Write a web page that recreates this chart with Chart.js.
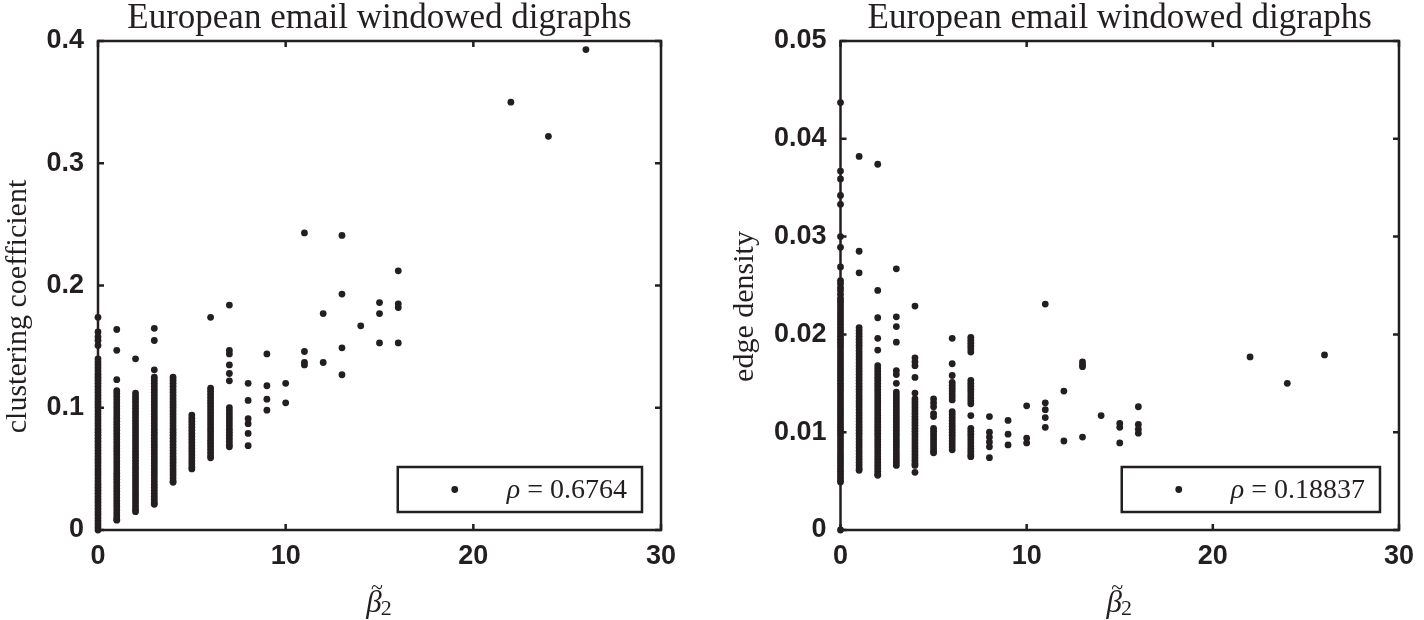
<!DOCTYPE html>
<html>
<head>
<meta charset="utf-8">
<title>European email windowed digraphs</title>
<script src="https://cdn.jsdelivr.net/npm/chart.js@4.4.0/dist/chart.umd.min.js"></script>
<style>
  html, body { margin: 0; padding: 0; background: #fff; }
  #wrap { position: relative; width: 1424px; height: 620px; }
  .panel { position: absolute; top: 0; width: 712px; height: 620px; }
</style>
</head>
<body>
<div id="wrap">
  <div class="panel" style="left:0"><canvas id="leftChart"></canvas></div>
  <div class="panel" style="left:712px"><canvas id="rightChart"></canvas></div>
</div>
<script>
// beta2 values (x) and the measured values at each of them
const betaValues = [0, 1, 2, 3, 4, 5, 6, 7, 8, 9, 10, 11, 12, 13, 14, 15, 16, 22, 24, 26];

const clusteringByBeta = [
  [0.174, 0.162, 0.158, 0.155, 0.151, 0.1400, 0.1375, 0.1350, 0.1325, 0.1300, 0.1275, 0.1250, 0.1225, 0.1200, 0.1175, 0.1150, 0.1125, 0.1100, 0.1075, 0.1050, 0.1025, 0.1000, 0.0975, 0.0950, 0.0925, 0.0900, 0.0875, 0.0850, 0.0825, 0.0800, 0.0775, 0.0750, 0.0725, 0.0700, 0.0675, 0.0650, 0.0625, 0.0600, 0.0575, 0.0550, 0.0525, 0.0500, 0.0475, 0.0450, 0.0425, 0.0400, 0.0375, 0.0350, 0.0325, 0.0300, 0.0275, 0.0250, 0.0225, 0.0200, 0.0175, 0.0150, 0.0125, 0.0100, 0.0075, 0.0050, 0.0025, 0.0000],
  [0.164, 0.147, 0.123, 0.1140, 0.1115, 0.1090, 0.1065, 0.1040, 0.1015, 0.0990, 0.0965, 0.0940, 0.0915, 0.0890, 0.0865, 0.0840, 0.0815, 0.0790, 0.0765, 0.0740, 0.0715, 0.0690, 0.0665, 0.0640, 0.0615, 0.0590, 0.0565, 0.0540, 0.0515, 0.0490, 0.0465, 0.0440, 0.0415, 0.0390, 0.0365, 0.0340, 0.0315, 0.0290, 0.0265, 0.0240, 0.0215, 0.0190, 0.0165, 0.0140, 0.0115, 0.0090, 0.0080],
  [0.140, 0.1120, 0.1095, 0.1070, 0.1045, 0.1020, 0.0995, 0.0970, 0.0945, 0.0920, 0.0895, 0.0870, 0.0845, 0.0820, 0.0795, 0.0770, 0.0745, 0.0720, 0.0695, 0.0670, 0.0645, 0.0620, 0.0595, 0.0570, 0.0545, 0.0520, 0.0495, 0.0470, 0.0445, 0.0420, 0.0395, 0.0370, 0.0345, 0.0320, 0.0295, 0.0270, 0.0245, 0.0220, 0.0195, 0.0170, 0.0150],
  [0.165, 0.155, 0.131, 0.1250, 0.1225, 0.1200, 0.1175, 0.1150, 0.1125, 0.1100, 0.1075, 0.1050, 0.1025, 0.1000, 0.0975, 0.0950, 0.0925, 0.0900, 0.0875, 0.0850, 0.0825, 0.0800, 0.0775, 0.0750, 0.0725, 0.0700, 0.0675, 0.0650, 0.0625, 0.0600, 0.0575, 0.0550, 0.0525, 0.0500, 0.0475, 0.0450, 0.0425, 0.0400, 0.0375, 0.0350, 0.0325, 0.0300, 0.0275, 0.0250, 0.0225, 0.0210],
  [0.1250, 0.1225, 0.1200, 0.1175, 0.1150, 0.1125, 0.1100, 0.1075, 0.1050, 0.1025, 0.1000, 0.0975, 0.0950, 0.0925, 0.0900, 0.0875, 0.0850, 0.0825, 0.0800, 0.0775, 0.0750, 0.0725, 0.0700, 0.0675, 0.0650, 0.0625, 0.0600, 0.0575, 0.0550, 0.0525, 0.0500, 0.0475, 0.0450, 0.0425, 0.0400, 0.0390],
  [0.0940, 0.0915, 0.0890, 0.0865, 0.0840, 0.0815, 0.0790, 0.0765, 0.0740, 0.0715, 0.0690, 0.0665, 0.0640, 0.0615, 0.0590, 0.0565, 0.0540, 0.0515, 0.0500],
  [0.174, 0.1160, 0.1135, 0.1110, 0.1085, 0.1060, 0.1035, 0.1010, 0.0985, 0.0960, 0.0935, 0.0910, 0.0885, 0.0860, 0.0835, 0.0810, 0.0785, 0.0760, 0.0735, 0.0710, 0.0685, 0.0660, 0.0635, 0.0610, 0.0590],
  [0.184, 0.147, 0.144, 0.135, 0.128, 0.122, 0.1000, 0.0975, 0.0950, 0.0925, 0.0900, 0.0875, 0.0850, 0.0825, 0.0800, 0.0775, 0.0750, 0.0725, 0.0700, 0.0680],
  [0.120, 0.106, 0.091, 0.087, 0.079, 0.069],
  [0.144, 0.118, 0.107, 0.098],
  [0.120, 0.104],
  [0.243, 0.146, 0.137, 0.135],
  [0.177, 0.137],
  [0.241, 0.193, 0.149, 0.127],
  [0.167],
  [0.186, 0.177, 0.153],
  [0.212, 0.185, 0.182, 0.153],
  [0.350],
  [0.322],
  [0.393]
];

const densityByBeta = [
  [0.0437, 0.0367, 0.0359, 0.0342, 0.0333, 0.0300, 0.0289, 0.0269, 0.0255, 0.0252, 0.0248, 0.0245, 0.0241, 0.0237, 0.0234, 0.0231, 0.0228, 0.0225, 0.0222, 0.0219, 0.0216, 0.0213, 0.0210, 0.0207, 0.0204, 0.0201, 0.0198, 0.0195, 0.0192, 0.0189, 0.0186, 0.0183, 0.0180, 0.0177, 0.0174, 0.0171, 0.0168, 0.0165, 0.0162, 0.0159, 0.0156, 0.0153, 0.0150, 0.0147, 0.0144, 0.0141, 0.0138, 0.0135, 0.0132, 0.0129, 0.0126, 0.0123, 0.0120, 0.0117, 0.0114, 0.0111, 0.0108, 0.0105, 0.0102, 0.0099, 0.0096, 0.0093, 0.0090, 0.0087, 0.0084, 0.0081, 0.0078, 0.0075, 0.0072, 0.0069, 0.0066, 0.0063, 0.0060, 0.0057, 0.0054, 0.0051, 0.0049, 0],
  [0.0382, 0.0285, 0.0263, 0.0207, 0.0204, 0.0201, 0.0198, 0.0195, 0.0192, 0.0189, 0.0186, 0.0183, 0.0180, 0.0177, 0.0174, 0.0171, 0.0168, 0.0165, 0.0162, 0.0159, 0.0156, 0.0153, 0.0150, 0.0147, 0.0144, 0.0141, 0.0138, 0.0135, 0.0132, 0.0129, 0.0126, 0.0123, 0.0120, 0.0117, 0.0114, 0.0111, 0.0108, 0.0105, 0.0102, 0.0099, 0.0096, 0.0093, 0.0090, 0.0087, 0.0084, 0.0081, 0.0078, 0.0075, 0.0072, 0.0069, 0.0066, 0.0063, 0.0061],
  [0.0374, 0.0245, 0.0217, 0.0196, 0.0184, 0.0168, 0.0165, 0.0162, 0.0159, 0.0156, 0.0153, 0.0150, 0.0147, 0.0144, 0.0141, 0.0138, 0.0135, 0.0132, 0.0129, 0.0126, 0.0123, 0.0120, 0.0117, 0.0114, 0.0111, 0.0108, 0.0105, 0.0102, 0.0099, 0.0096, 0.0093, 0.0090, 0.0087, 0.0084, 0.0081, 0.0078, 0.0075, 0.0072, 0.0069, 0.0066, 0.0063, 0.0060, 0.0057, 0.0056],
  [0.0267, 0.0218, 0.0208, 0.0192, 0.0163, 0.0159, 0.0150, 0.0141, 0.0138, 0.0135, 0.0132, 0.0129, 0.0126, 0.0123, 0.0120, 0.0117, 0.0114, 0.0111, 0.0108, 0.0105, 0.0102, 0.0099, 0.0096, 0.0093, 0.0090, 0.0087, 0.0084, 0.0081, 0.0078, 0.0075, 0.0072, 0.0069, 0.0066],
  [0.0229, 0.0176, 0.0172, 0.0168, 0.0156, 0.0140, 0.0134, 0.0131, 0.0128, 0.0125, 0.0122, 0.0119, 0.0116, 0.0113, 0.0110, 0.0107, 0.0104, 0.0101, 0.0098, 0.0095, 0.0092, 0.0089, 0.0086, 0.0083, 0.0080, 0.0077, 0.0074, 0.0071, 0.0068, 0.0066, 0.0059],
  [0.0134, 0.0130, 0.0126, 0.0119, 0.0116, 0.0104, 0.0101, 0.0098, 0.0095, 0.0092, 0.0089, 0.0086, 0.0083, 0.0080, 0.0079],
  [0.0196, 0.0170, 0.0158, 0.0151, 0.0148, 0.0145, 0.0142, 0.0139, 0.0136, 0.0133, 0.0121, 0.0118, 0.0115, 0.0112, 0.0109, 0.0106, 0.0103, 0.0100, 0.0097, 0.0094, 0.0091, 0.0088, 0.0085, 0.0082],
  [0.0197, 0.0194, 0.0191, 0.0188, 0.0185, 0.0182, 0.0153, 0.0150, 0.0147, 0.0144, 0.0141, 0.0138, 0.0135, 0.0132, 0.0129, 0.0117, 0.0104, 0.0101, 0.0098, 0.0095, 0.0092, 0.0089, 0.0086, 0.0083, 0.0080, 0.0077, 0.0075],
  [0.0116, 0.0100, 0.0095, 0.0090, 0.0085, 0.0074],
  [0.0112, 0.0098, 0.0087],
  [0.0127, 0.0094, 0.0089],
  [0.0231, 0.0130, 0.0123, 0.0115, 0.0105],
  [0.0142, 0.0091],
  [0.0172, 0.0169, 0.0167, 0.0095],
  [0.0117],
  [0.0109, 0.0105, 0.0089],
  [0.0126, 0.0108, 0.0103, 0.0099],
  [0.0177],
  [0.0150],
  [0.0179]
];

const betaTicks = [0, 10, 20, 30];
const clusteringTicks = [0, 0.1, 0.2, 0.3, 0.4];
const densityTicks = [0, 0.01, 0.02, 0.03, 0.04, 0.05];
const rhoValues = ['0.6764', '0.18837'];

const ink = '#231f20';
const titleText = 'European email windowed digraphs';
const serif = '"Liberation Serif"';

// box round the axes, inward ticks, axis labels and the little rho legend
const framePlugin = {
  id: 'frame',
  afterDatasetsDraw(chart, args, opts) {
    const { ctx, chartArea: a, scales: { x, y } } = chart;
    ctx.save();
    ctx.strokeStyle = ink;
    ctx.fillStyle = ink;
    ctx.lineWidth = 2.5;
    ctx.strokeRect(a.left, a.top, a.right - a.left, a.bottom - a.top);
    ctx.beginPath();
    x.ticks.forEach(t => {
      const px = x.getPixelForValue(t.value);
      ctx.moveTo(px, a.bottom); ctx.lineTo(px, a.bottom - 6);
      ctx.moveTo(px, a.top); ctx.lineTo(px, a.top + 6);
    });
    y.ticks.forEach(t => {
      const py = y.getPixelForValue(t.value);
      ctx.moveTo(a.left, py); ctx.lineTo(a.left + 6, py);
      ctx.moveTo(a.right, py); ctx.lineTo(a.right - 6, py);
    });
    ctx.stroke();

    // y label, rotated
    ctx.save();
    ctx.translate(opts.yLabelX, (a.top + a.bottom) / 2 + 21);
    ctx.rotate(-Math.PI / 2);
    ctx.font = '30px ' + serif;
    ctx.textAlign = 'center';
    ctx.textBaseline = 'alphabetic';
    ctx.fillText(opts.yLabel, 0, 7);
    ctx.restore();

    // x label: beta with tilde, subscript 2
    const cx = (a.left + a.right) / 2;
    const base = 612;
    ctx.font = 'italic 31px ' + serif;
    const bw = ctx.measureText('\u03b2').width;
    ctx.font = '22px ' + serif;
    const sw = ctx.measureText('2').width;
    const x0 = cx - (bw + sw) / 2;
    ctx.textAlign = 'left';
    ctx.textBaseline = 'alphabetic';
    ctx.font = 'italic 31px ' + serif;
    ctx.fillText('\u03b2', x0, base);
    ctx.font = '22px ' + serif;
    ctx.textAlign = 'center';
    ctx.fillText('~', x0 + bw / 2 + 3, base - 18);
    ctx.textAlign = 'left';
    ctx.font = '22px ' + serif;
    ctx.fillText('2', x0 + bw - 1, base + 3);

    // legend
    const label = chart.data.datasets[0].label;
    ctx.font = 'italic 28px ' + serif;
    const rhoW = ctx.measureText('\u03c1').width;
    ctx.font = '28px ' + serif;
    const restW = ctx.measureText(' = ' + label).width;
    const boxR = a.right - 19, boxB = a.bottom - 18;
    const boxW = rhoW + restW + 124, boxH = 45;
    const boxL = boxR - boxW, boxT = boxB - boxH;
    ctx.fillStyle = '#fff';
    ctx.fillRect(boxL, boxT, boxW, boxH);
    ctx.lineWidth = 2.5;
    ctx.strokeRect(boxL, boxT, boxW, boxH);
    ctx.fillStyle = ink;
    ctx.beginPath();
    ctx.arc(boxL + 57, boxT + boxH / 2, 3.4, 0, Math.PI * 2);
    ctx.fill();
    ctx.textBaseline = 'middle';
    const tx = boxR - 15 - restW - rhoW;
    ctx.font = 'italic 28px ' + serif;
    ctx.fillText('\u03c1', tx, boxT + boxH / 2 + 1);
    ctx.font = '28px ' + serif;
    ctx.fillText(' = ' + label, tx + rhoW, boxT + boxH / 2 + 1);
    ctx.restore();
  }
};

function makeChart(id, valuesByBeta, yTicks, yTitle, rho, axisWidth, yLabelX, rightPad) {
  const points = betaValues.flatMap((b, i) => valuesByBeta[i].map(v => ({ x: b, y: v })));
  const tickFont = { family: '"Liberation Sans"', size: 27, weight: 'bold' };
  return new Chart(document.getElementById(id), {
    type: 'scatter',
    data: {
      datasets: [{
        label: rho,
        data: points,
        pointRadius: 3.4,
        pointBorderWidth: 0,
        pointBackgroundColor: ink,
        pointHoverRadius: 3.4,
        clip: 10
      }]
    },
    options: {
      responsive: true,
      maintainAspectRatio: false,
      animation: false,
      devicePixelRatio: 1,
      layout: { padding: { left: 0, right: rightPad, top: 0, bottom: 0 } },
      plugins: {
        legend: { display: false },
        tooltip: { enabled: false },
        title: {
          display: true,
          text: titleText,
          fullSize: false,
          color: ink,
          font: { family: serif, size: 35, weight: 'normal', lineHeight: 1.0 },
          padding: { top: 1, bottom: 5 }
        },
        frame: { yLabel: yTitle, yLabelX: yLabelX }
      },
      scales: {
        x: {
          type: 'linear',
          min: 0, max: 30,
          afterBuildTicks: s => { s.ticks = betaTicks.map(v => ({ value: v })); },
          afterFit: s => { s.height = 90; },
          grid: { display: false, drawTicks: false },
          border: { display: false },
          ticks: { color: ink, padding: 10, font: tickFont, callback: v => String(v) }
        },
        y: {
          type: 'linear',
          min: yTicks[0], max: yTicks[yTicks.length - 1],
          afterBuildTicks: s => { s.ticks = yTicks.map(v => ({ value: v })); },
          afterFit: s => { s.width = axisWidth; },
          grid: { display: false, drawTicks: false },
          border: { display: false },
          ticks: { color: ink, padding: 14, font: tickFont, callback: v => String(v) }
        }
      }
    },
    plugins: [framePlugin]
  });
}

makeChart('leftChart', clusteringByBeta, clusteringTicks, 'clustering coefficient', rhoValues[0], 98, 19, 51);
makeChart('rightChart', densityByBeta, densityTicks, 'edge density', rhoValues[1], 128.5, 34, 21);
</script>
</body>
</html>
